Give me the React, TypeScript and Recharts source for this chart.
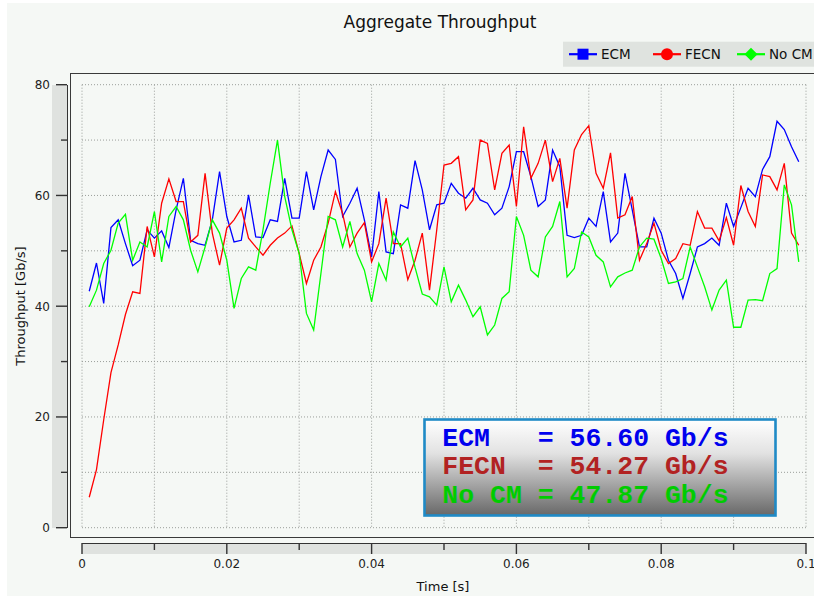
import { LineChart, Line, XAxis, YAxis, CartesianGrid } from "recharts";

// sampled every 1 ms, from 0.001 s to 0.099 s
const timeStep = 0.001;

const ecm = [
  42.7, 47.8, 40.5, 54.2, 55.6, 51.3, 47.3, 48.3, 53.8, 52.3,
  53.6, 50.6, 57.4, 63.1, 51.9, 51.3, 51.0, 55.6, 64.3, 56.2,
  51.6, 51.9, 60.1, 52.5, 52.4, 55.6, 55.3, 63.1, 55.9, 55.9,
  64.3, 57.4, 63.4, 68.2, 66.5, 56.2, 58.6, 61.3, 55.6, 48.9,
  60.7, 49.8, 49.5, 58.3, 57.7, 66.3, 61.0, 53.8, 58.3, 58.6,
  62.2, 60.4, 59.5, 61.3, 59.2, 58.6, 56.5, 57.7, 61.6, 67.9,
  67.9, 63.4, 58.0, 59.2, 68.2, 65.2, 52.8, 52.4, 52.8, 55.9,
  54.4, 60.7, 51.6, 53.2, 64.0, 57.4, 50.7, 50.7, 55.9, 53.2,
  48.3, 45.9, 41.4, 45.9, 50.7, 51.3, 52.3, 51.0, 58.6, 54.4,
  57.8, 61.3, 59.8, 64.7, 67.0, 73.4, 71.9, 68.8, 66.1,
];

const fecn = [
  5.5, 10.5, 19.5, 28.0, 33.0, 38.5, 42.6, 42.3, 54.4, 48.9,
  58.6, 63.0, 58.9, 58.9, 51.6, 52.8, 64.0, 53.2, 47.4, 54.1,
  55.6, 57.7, 52.3, 50.7, 49.2, 51.0, 52.3, 53.2, 54.5, 49.5,
  44.1, 48.3, 50.7, 55.0, 60.7, 56.7, 50.7, 53.2, 55.1, 48.0,
  51.3, 59.5, 51.3, 51.3, 44.8, 48.3, 53.2, 42.9, 53.8, 65.5,
  65.8, 67.0, 57.4, 59.2, 70.0, 69.4, 61.0, 67.6, 69.1, 58.0,
  72.4, 63.1, 65.8, 70.0, 62.5, 66.7, 57.7, 68.2, 71.0, 72.6,
  64.0, 61.3, 67.7, 55.9, 56.5, 59.8, 48.3, 51.3, 55.0, 50.1,
  47.7, 48.6, 51.3, 51.0, 57.1, 54.1, 54.1, 51.8, 56.0, 51.0,
  61.8, 57.1, 54.4, 63.7, 63.4, 61.0, 65.8, 53.2, 51.0,
];

const noCm = [
  39.9, 42.9, 47.7, 50.1, 55.0, 56.6, 48.3, 51.6, 50.7, 57.1,
  48.0, 56.2, 58.0, 55.6, 50.1, 46.2, 50.7, 55.6, 53.2, 48.3,
  39.6, 45.0, 47.1, 46.5, 53.8, 62.2, 70.0, 59.8, 53.8, 49.5,
  38.7, 35.7, 45.9, 56.2, 55.6, 50.7, 55.3, 49.5, 46.5, 40.8,
  47.7, 44.7, 53.4, 50.7, 52.3, 47.0, 42.2, 41.7, 40.2, 47.1,
  40.8, 43.8, 41.1, 38.1, 39.9, 34.8, 36.6, 41.4, 42.6, 56.2,
  52.8, 46.5, 45.3, 52.5, 54.4, 58.9, 45.3, 46.8, 53.4, 52.5,
  49.2, 48.0, 43.5, 45.3, 46.0, 46.5, 50.7, 52.3, 52.1, 48.6,
  44.1, 44.4, 45.0, 50.7, 47.1, 43.5, 39.3, 42.9, 44.7, 36.2,
  36.2, 41.1, 41.2, 41.0, 45.9, 46.8, 61.9, 58.3, 48.0,
];

const xTicks = [0, 0.01, 0.02, 0.03, 0.04, 0.05, 0.06, 0.07, 0.08, 0.09, 0.1];
const yTicks = [0, 10, 20, 30, 40, 50, 60, 70, 80];

const seriesNames = ["ECM", "FECN", "No CM"];
const seriesKeys = ["ecm", "fecn", "noCm"];
const seriesColors = ["#0000ff", "#ff0000", "#00ff00"];
const markerShapes = ["square", "circle", "diamond"];

const avgValues = [56.6, 54.27, 47.87];
const avgColors = ["#0000ee", "#b22222", "#00cc00"];

const data = ecm.map((v, i) => ({
  t: (i + 1) * timeStep,
  ecm: v,
  fecn: fecn[i],
  noCm: noCm[i],
}));

const FONT = "DejaVu Sans, Verdana, sans-serif";
const AXIS = "#333333";

function XTick(props: any) {
  const { x, y, payload, index } = props;
  const major = index % 2 === 0;
  return (
    <g>
      <line
        x1={x}
        x2={x}
        y1={y + 15.3}
        y2={y + 15.3 + (major ? 11 : 7)}
        stroke={AXIS}
        strokeWidth={1.4}
      />
      {major && (
        <text
          x={x}
          y={y + 40.6}
          textAnchor="middle"
          fontSize={12}
          fontFamily={FONT}
          fill="#222"
        >
          {String(Number(payload.value.toFixed(2)))}
        </text>
      )}
    </g>
  );
}

function YTick(props: any) {
  const { x, y, payload, index } = props;
  const major = index % 2 === 0;
  return (
    <g>
      <line
        x1={x - (major ? 26 : 21)}
        x2={x - 15}
        y1={y}
        y2={y}
        stroke={AXIS}
        strokeWidth={1.4}
      />
      {major && (
        <text
          x={x - 32}
          y={y}
          dy="0.36em"
          textAnchor="end"
          fontSize={12}
          fontFamily={FONT}
          fill="#222"
        >
          {payload.value}
        </text>
      )}
    </g>
  );
}

function Marker({ shape, cx, cy, color }: { shape: string; cx: number; cy: number; color: string }) {
  if (shape === "square") {
    return <rect x={cx - 5.5} y={cy - 5.5} width={11} height={11} fill={color} />;
  }
  if (shape === "circle") {
    return <circle cx={cx} cy={cy} r={6} fill={color} />;
  }
  return (
    <polygon
      points={`${cx},${cy - 6.5} ${cx + 6.5},${cy} ${cx},${cy + 6.5} ${cx - 6.5},${cy}`}
      fill={color}
    />
  );
}

const legendX = [569, 653, 737];

export default function App() {
  return (
    <div
      style={{
        position: "relative",
        width: 814,
        height: 596,
        background: "#ffffff",
        overflow: "hidden",
      }}
    >
      <style>{"body{margin:0}"}</style>
      <div
        style={{
          position: "absolute",
          left: 7,
          top: 3,
          width: 807,
          height: 593,
          background: "#f5f8f5",
        }}
      />
      {/* plot frame */}
      <div
        style={{
          position: "absolute",
          left: 70,
          top: 72.7,
          width: 748,
          height: 465.6,
          border: "1.5px solid #3a3a3a",
          boxSizing: "border-box",
        }}
      />
      {/* axis bands */}
      <div
        style={{
          position: "absolute",
          left: 52,
          top: 84.7,
          width: 15,
          height: 443,
          background: "#dfe2df",
          borderRight: "1.5px solid " + AXIS,
        }}
      />
      <div
        style={{
          position: "absolute",
          left: 82,
          top: 543,
          width: 724,
          height: 11.3,
          background: "#dfe2df",
          borderTop: "1.5px solid " + AXIS,
          boxSizing: "border-box",
        }}
      />

      <div style={{ position: "absolute", left: 0, top: 0 }}>
        <LineChart
          width={814}
          height={596}
          data={data}
          margin={{ top: 84.7, right: 8, left: 22, bottom: 0 }}
        >
          <CartesianGrid stroke="#9a9e9a" strokeDasharray="1 2" strokeWidth={1} />
          <XAxis
            dataKey="t"
            type="number"
            domain={[0, 0.1]}
            ticks={xTicks}
            interval={0}
            height={68.3}
            tickSize={0}
            tickMargin={0}
            axisLine={false}
            tickLine={false}
            tick={<XTick />}
          />
          <YAxis
            type="number"
            domain={[0, 80]}
            ticks={yTicks}
            interval={0}
            width={60}
            tickSize={0}
            tickMargin={0}
            axisLine={false}
            tickLine={false}
            tick={<YTick />}
          />
          {seriesKeys.map((k, i) => (
            <Line
              key={k}
              dataKey={k}
              name={seriesNames[i]}
              type="linear"
              stroke={seriesColors[i]}
              strokeWidth={1.3}
              dot={false}
              activeDot={false}
              isAnimationActive={false}
            />
          ))}
        </LineChart>
      </div>

      <svg
        width={814}
        height={596}
        style={{ position: "absolute", left: 0, top: 0, pointerEvents: "none" }}
      >
        <defs>
          <linearGradient id="boxFill" x1="0" y1="0" x2="0" y2="1">
            <stop offset="0" stopColor="#ffffff" />
            <stop offset="0.35" stopColor="#e2e2e2" />
            <stop offset="1" stopColor="#686868" />
          </linearGradient>
        </defs>

        <text
          x={440}
          y={28}
          textAnchor="middle"
          fontSize={17}
          fontFamily={FONT}
          fill="#111"
        >
          Aggregate Throughput
        </text>

        {/* legend */}
        <rect x={563} y={41.7} width={260} height={25} fill="#dfe3df" />
        {seriesNames.map((name, i) => (
          <g key={name}>
            <line
              x1={legendX[i]}
              x2={legendX[i] + 28}
              y1={54.2}
              y2={54.2}
              stroke={seriesColors[i]}
              strokeWidth={2.2}
            />
            <Marker shape={markerShapes[i]} cx={legendX[i] + 14} cy={54.2} color={seriesColors[i]} />
            <text
              x={legendX[i] + 32}
              y={59}
              fontSize={13.5}
              fontFamily={FONT}
              fill="#111"
            >
              {name}
            </text>
          </g>
        ))}

        <text
          x={443}
          y={591}
          textAnchor="middle"
          fontSize={13}
          fontFamily={FONT}
          fill="#111"
        >
          Time [s]
        </text>
        <text
          transform="translate(24.5 306) rotate(-90)"
          textAnchor="middle"
          fontSize={13}
          fontFamily={FONT}
          fill="#111"
        >
          Throughput [Gb/s]
        </text>

        {/* averages box */}
        <rect
          x={424.5}
          y={419.5}
          width={351}
          height={96}
          fill="url(#boxFill)"
          stroke="#1f8ac6"
          strokeWidth={2.6}
        />
        {seriesNames.map((name, i) => (
          <text
            key={name}
            x={442.3}
            y={446 + i * 28.3}
            fontSize={26.5}
            fontWeight="bold"
            fontFamily="Liberation Mono, DejaVu Sans Mono, monospace"
            fill={avgColors[i]}
            style={{ whiteSpace: "pre" }}
          >
            {name.padEnd(6) + "= " + avgValues[i].toFixed(2) + " Gb/s"}
          </text>
        ))}
      </svg>
    </div>
  );
}
